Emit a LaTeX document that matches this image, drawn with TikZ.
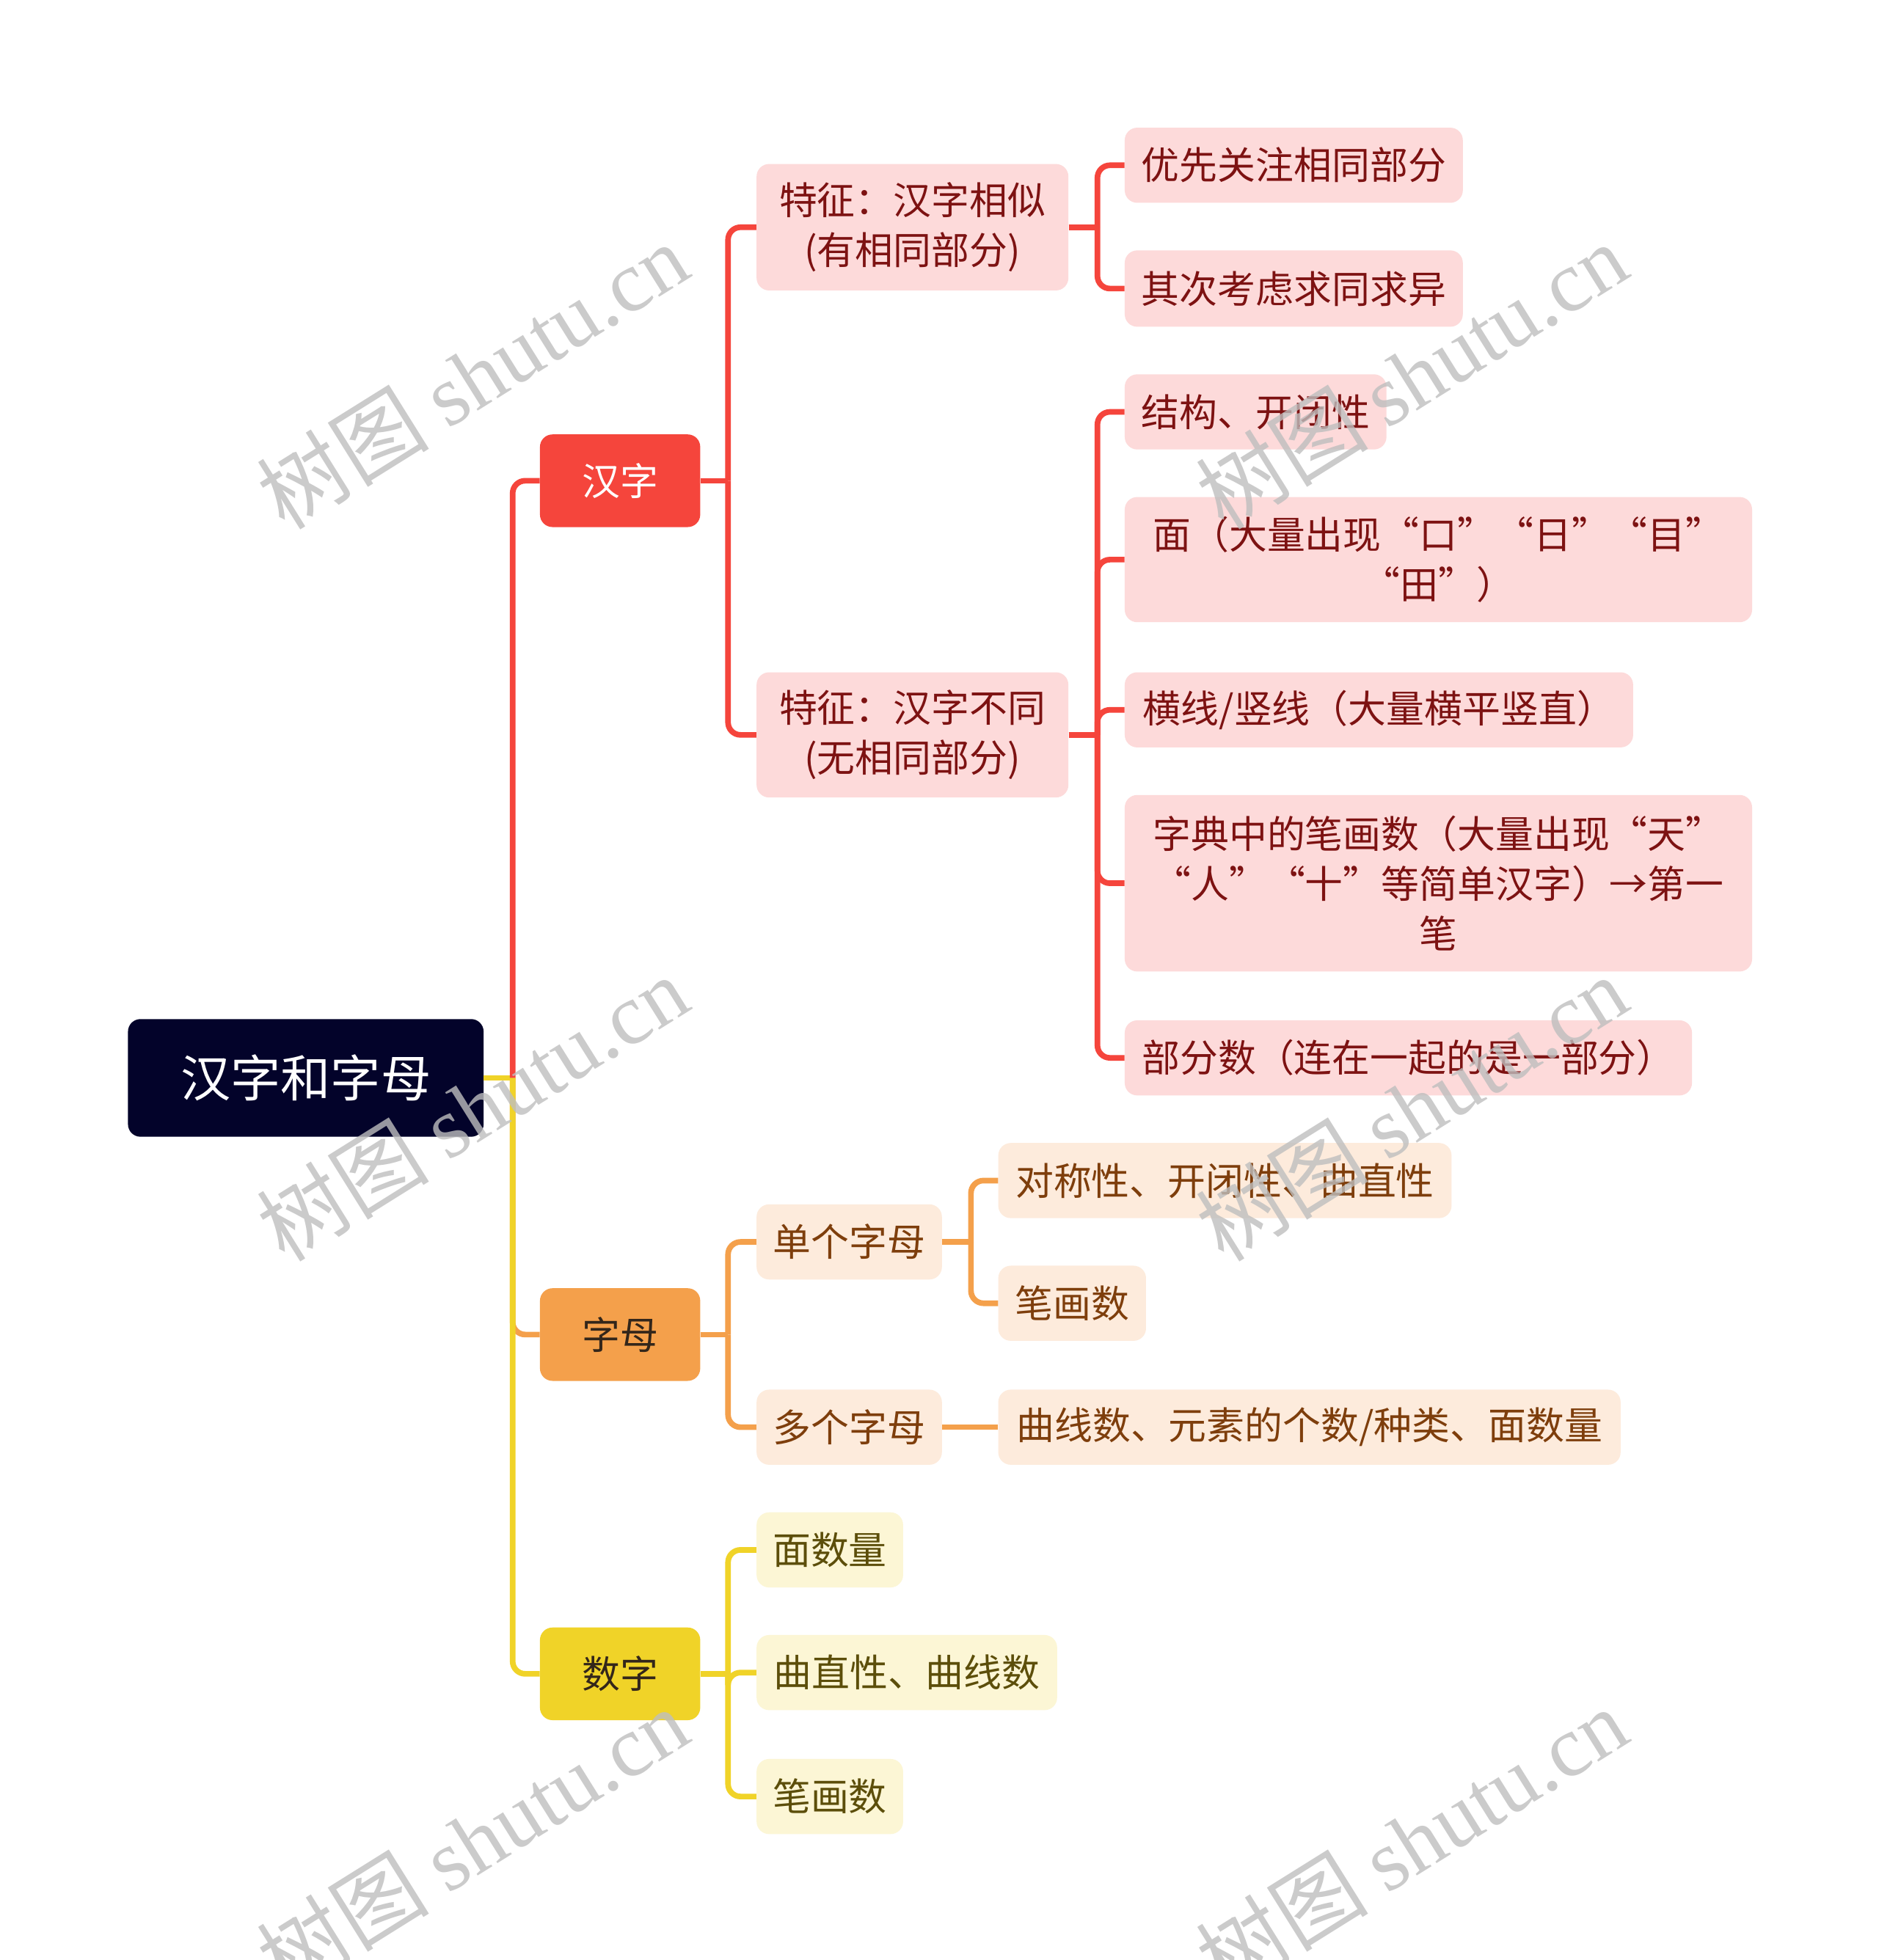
\documentclass[tikz,border=0pt]{standalone}
\usepackage{fontspec}
\setmainfont{Noto Sans CJK SC}
\newfontfamily\wmlatin{Liberation Serif}
\newfontfamily\wmcjk{Noto Sans CJK SC}
\usetikzlibrary{calc}
\definecolor{rootc}{HTML}{03032A}
\definecolor{redc}{HTML}{F5453C}
\definecolor{redl}{HTML}{FDDADA}
\definecolor{redt}{HTML}{7D1212}
\definecolor{orc}{HTML}{F4A04B}
\definecolor{orl}{HTML}{FDEBDC}
\definecolor{ort}{HTML}{7E3E0C}
\definecolor{yec}{HTML}{F0D328}
\definecolor{yel}{HTML}{FCF6D5}
\definecolor{yet}{HTML}{5C4E0A}
\definecolor{lvt}{HTML}{33261A}
\definecolor{wmc}{RGB}{190,190,190}
\begin{document}
\begin{tikzpicture}[x=1pt,y=-1pt,
  box/.style={rounded corners=10pt, inner sep=0pt, align=center, anchor=west,
    font=\fontsize{30.4}{40}\selectfont},
  rbox/.style={box, fill=redl, text=redt},
  obox/.style={box, fill=orl, text=ort},
  ybox/.style={box, fill=yel, text=yet},
  conn/.style={line width=4.5pt},
  rline/.style={conn, draw=redc},
  oline/.style={conn, draw=orc},
  yline/.style={conn, draw=yec},
  rc/.style={rounded corners=10pt},
  wm/.style={text=wmc, opacity=0.8, rotate=32, font=\fontsize{69}{75}\selectfont}
]
\useasboundingbox (0,0) rectangle (1500,1565.6);
\fill[white] (0,0) rectangle (1500,1565.6);

% root and level 1
\node[box, fill=rootc, text=white, minimum width=284pt, minimum height=94pt,
  font=\fontsize{40}{48}\selectfont] (root) at (102,861) {汉字和字母};
\node[box, fill=redc, text=white, minimum width=128pt, minimum height=74pt] (hz) at (431,384) {汉字};
\node[box, fill=orc, text=lvt, minimum width=128pt, minimum height=74pt] (zm) at (431,1066) {字母};
\node[box, fill=yec, text=lvt, minimum width=128pt, minimum height=74pt] (sz) at (431,1337) {数字};

% red branch
\node[rbox, minimum width=249pt, minimum height=101pt] (r1) at (604,181.5) {特征：汉字相似\\(有相同部分)};
\node[rbox, minimum width=249pt, minimum height=100pt] (r2) at (604,587) {特征：汉字不同\\(无相同部分)};
\node[rbox, minimum width=270pt, minimum height=60pt] (r11) at (898,132) {优先关注相同部分};
\node[rbox, minimum width=270pt, minimum height=61pt] (r12) at (898,230.5) {其次考虑求同求异};
\node[rbox, minimum width=209pt, minimum height=60pt] (r21) at (898,329) {结构、开闭性};
\node[rbox, minimum width=501pt, minimum height=100pt] (r22) at (898,447) {面（大量出现“口”“日”“目”\\“田”）};
\node[rbox, minimum width=406pt, minimum height=60pt] (r23) at (898,567) {横线/竖线（大量横平竖直）};
\node[rbox, minimum width=501pt, minimum height=141pt] (r24) at (898,705.5) {字典中的笔画数（大量出现“天”\\“人”“十”等简单汉字）→第一\\笔};
\node[rbox, minimum width=453pt, minimum height=60pt] (r25) at (898,845) {部分数（连在一起的是一部分）};

% orange branch
\node[obox, minimum width=148pt, minimum height=60pt] (o1) at (604,992) {单个字母};
\node[obox, minimum width=148pt, minimum height=60pt] (o2) at (604,1140) {多个字母};
\node[obox, minimum width=362pt, minimum height=60pt] (o11) at (797,943) {对称性、开闭性、曲直性};
\node[obox, minimum width=118pt, minimum height=60pt] (o12) at (797,1041) {笔画数};
\node[obox, minimum width=497pt, minimum height=60pt] (o21) at (797,1140) {曲线数、元素的个数/种类、面数量};

% yellow branch
\node[ybox, minimum width=117pt, minimum height=60pt] (y1) at (604,1238) {面数量};
\node[ybox, minimum width=240pt, minimum height=60pt] (y2) at (604,1336) {曲直性、曲线数};
\node[ybox, minimum width=117pt, minimum height=60pt] (y3) at (604,1435) {笔画数};

% connectors from root
\coordinate (j0) at ($(root.east)+(23,0)$);
\draw[oline, rc] (j0) |- (zm.west);
\draw[yline] (root.east) -- (j0);
\draw[yline, rc] (j0) |- (sz.west);
\draw[rline, rc] (j0) |- (hz.west);

% red connectors
\coordinate (j1) at ($(hz.east)+(22,0)$);
\draw[rline] (hz.east) -- (j1);
\draw[rline, rc] (j1) |- (r1.west);
\draw[rline, rc] (j1) |- (r2.west);
\coordinate (j2) at ($(r1.east)+(23,0)$);
\draw[rline] (r1.east) -- (j2);
\draw[rline, rc] (j2) |- (r11.west);
\draw[rline, rc] (j2) |- (r12.west);
\coordinate (j3) at ($(r2.east)+(23,0)$);
\draw[rline] (r2.east) -- (j3);
\draw[rline, rc] (j3) |- (r21.west);
\draw[rline, rc] (j3) |- (r22.west);
\draw[rline, rc] (j3) |- (r23.west);
\draw[rline, rc] (j3) |- (r24.west);
\draw[rline, rc] (j3) |- (r25.west);

% orange connectors
\coordinate (j4) at ($(zm.east)+(22,0)$);
\draw[oline] (zm.east) -- (j4);
\draw[oline, rc] (j4) |- (o1.west);
\draw[oline, rc] (j4) |- (o2.west);
\coordinate (j5) at ($(o1.east)+(23,0)$);
\draw[oline] (o1.east) -- (j5);
\draw[oline, rc] (j5) |- (o11.west);
\draw[oline, rc] (j5) |- (o12.west);
\draw[oline] (o2.east) -- (o21.west);

% yellow connectors
\coordinate (j6) at ($(sz.east)+(22,0)$);
\draw[yline] (sz.east) -- (j6);
\draw[yline, rc] (j6) |- (y1.west);
\draw[yline, rc] (j6) |- (y2.west);
\draw[yline, rc] (j6) |- (y3.west);

% watermarks
\foreach \i/\p in {1/{(377,300)},2/{(1127,300)},3/{(377,885)},4/{(1127,885)},5/{(377,1470)},6/{(1127,1470)}}{
  \node[wm] (wm\i) at \p {\wmcjk 树图 \wmlatin shutu.cn};
}
\end{tikzpicture}
\end{document}
